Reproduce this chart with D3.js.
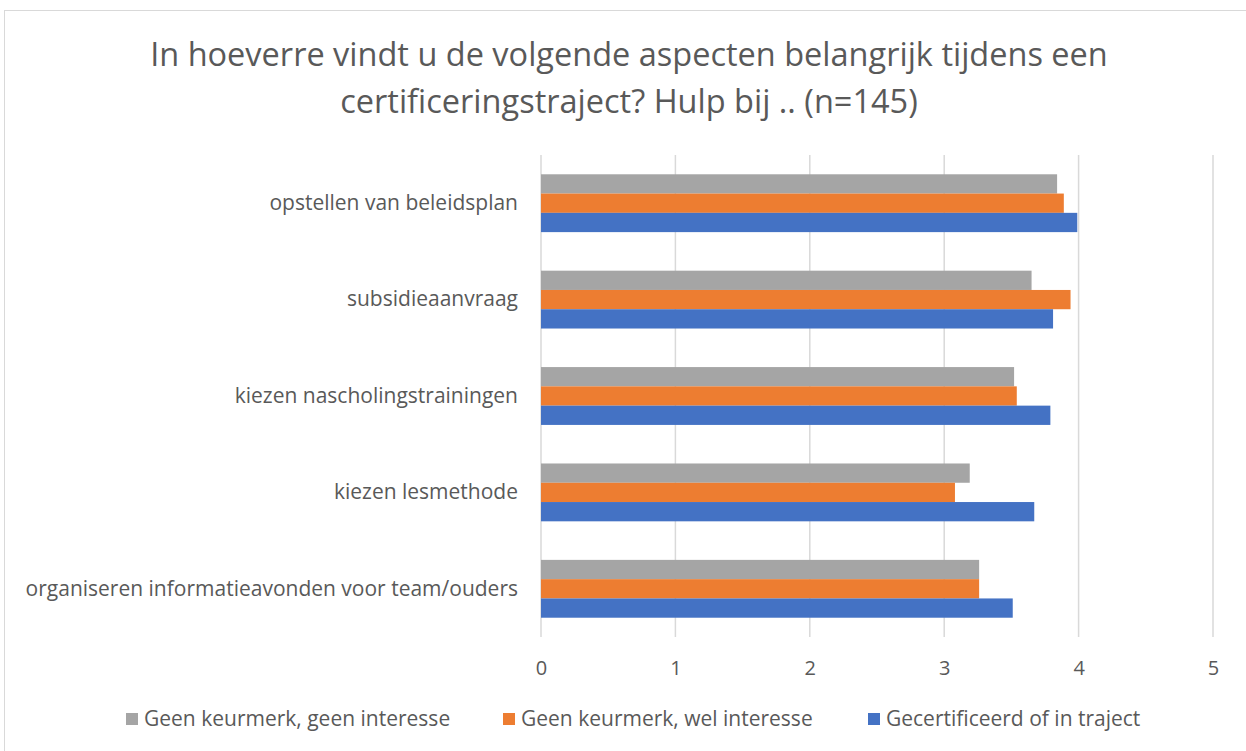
<!DOCTYPE html>
<html lang="nl">
<head>
<meta charset="UTF-8">
<title>Hulp bij certificeringstraject</title>
<script src="https://cdn.jsdelivr.net/npm/d3@7"></script>
<style>
	body { margin: 0; background: #fff; }
	text { font-family: "Open Sans", sans-serif; fill: #595959; }
</style>
</head>
<body>
<div id="chart"></div>
<script>
// categorieen (van boven naar onder)
var categories = [
	"opstellen van beleidsplan",
	"subsidieaanvraag",
	"kiezen nascholingstrainingen",
	"kiezen lesmethode",
	"organiseren informatieavonden voor team/ouders"
];
var seriesNames = ["Geen keurmerk, geen interesse", "Geen keurmerk, wel interesse", "Gecertificeerd of in traject"];
var seriesColors = ["#A5A5A5", "#ED7D31", "#4472C4"];
var geenInteresse = [3.84, 3.65, 3.52, 3.19, 3.26];
var welInteresse  = [3.89, 3.94, 3.54, 3.08, 3.26];
var gecertificeerd = [3.99, 3.81, 3.79, 3.67, 3.51];
var xTicks = [0, 1, 2, 3, 4, 5];
var titleLines = ["In hoeverre vindt u de volgende aspecten belangrijk tijdens een",
	"certificeringstraject? Hulp bij .. (n=145)"];

var values = [geenInteresse, welInteresse, gecertificeerd];

var W = 1246, H = 751;
var svg = d3.select("#chart").append("svg")
	.attr("width", W).attr("height", H);

// rand van de grafiek
svg.append("rect")
	.attr("x", 4.5).attr("y", 10.5)
	.attr("width", W + 10).attr("height", H + 10)
	.attr("fill", "none").attr("stroke", "#d9d9d9");

var xScale = d3.scaleLinear().domain([0, 5]).range([541, 1213]);
var yScale = d3.scaleBand().domain(categories).range([155, 637]).paddingInner(0.4).paddingOuter(0.2);
var ySub = d3.scaleBand().domain(d3.range(seriesNames.length)).range([0, yScale.bandwidth()]);

// rasterlijnen
svg.append("g").selectAll("line")
	.data(xTicks)
	.enter().append("line")
	.attr("x1", function(d){ return xScale(d); })
	.attr("x2", function(d){ return xScale(d); })
	.attr("y1", 155).attr("y2", 637)
	.attr("stroke", "#d9d9d9").attr("stroke-width", 1.5);

// balken
var groups = svg.append("g").selectAll("g")
	.data(categories)
	.enter().append("g")
	.attr("transform", function(d){ return "translate(0," + yScale(d) + ")"; });

groups.selectAll("rect")
	.data(function(d, i){ return values.map(function(v, s){ return {s: s, v: v[i]}; }); })
	.enter().append("rect")
	.attr("x", xScale(0))
	.attr("y", function(d){ return ySub(d.s); })
	.attr("width", function(d){ return xScale(d.v) - xScale(0); })
	.attr("height", ySub.bandwidth())
	.attr("fill", function(d){ return seriesColors[d.s]; });

// x-as
var xAxis = d3.axisBottom(xScale).tickValues(xTicks).tickFormat(d3.format("d")).tickSize(0).tickPadding(0);
var gx = svg.append("g").attr("transform", "translate(0,660)").call(xAxis);
gx.select(".domain").remove();
gx.selectAll("text").attr("font-size", 20).attr("dy", "0.35em").attr("y", 8)
	.style("font-family", "\"Open Sans\", sans-serif").attr("fill", "#595959");

// y-as
var yAxis = d3.axisLeft(yScale).tickSize(0).tickPadding(0);
var gy = svg.append("g").attr("transform", "translate(518,0)").call(yAxis);
gy.select(".domain").remove();
gy.selectAll("text").attr("font-size", 21)
	.style("font-family", "\"Open Sans\", sans-serif").attr("fill", "#595959");

// titel
svg.append("g").selectAll("text")
	.data(titleLines)
	.enter().append("text")
	.attr("x", 629)
	.attr("y", function(d, i){ return 55 + i * 47; })
	.attr("dy", "0.35em")
	.attr("text-anchor", "middle")
	.attr("font-size", 32.5)
	.text(function(d){ return d; });

// legenda
var legendX = [126, 503, 868];
var legend = svg.append("g").selectAll("g")
	.data(seriesNames)
	.enter().append("g")
	.attr("transform", function(d, i){ return "translate(" + legendX[i] + ",719)"; });
legend.append("rect")
	.attr("x", 0).attr("y", -6).attr("width", 12).attr("height", 12)
	.attr("fill", function(d, i){ return seriesColors[i]; });
legend.append("text")
	.attr("x", 18).attr("dy", "0.35em")
	.attr("font-size", 21)
	.text(function(d){ return d; });
</script>
</body>
</html>
